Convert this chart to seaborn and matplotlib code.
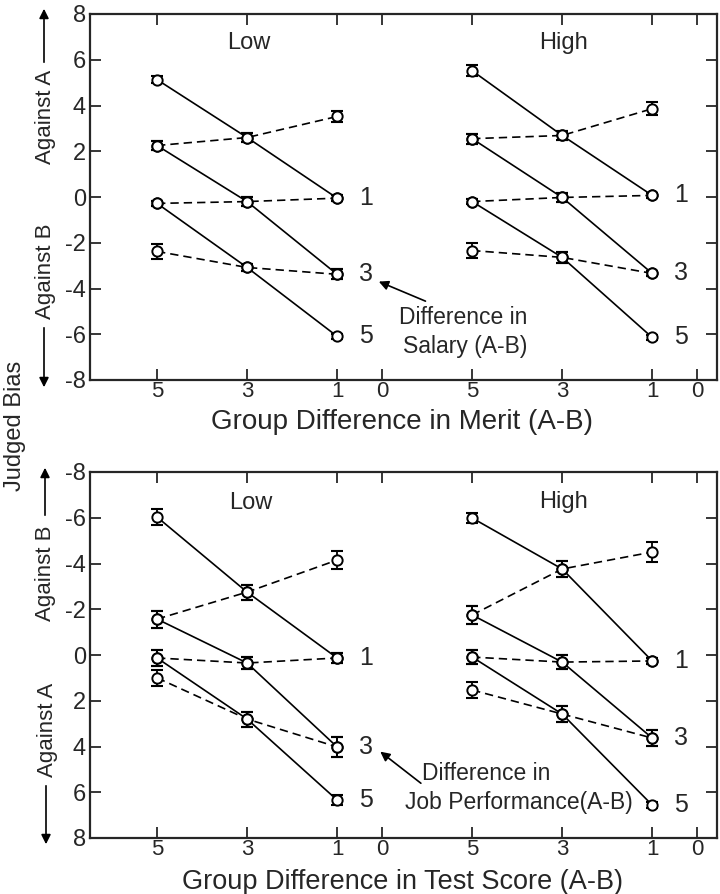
import matplotlib
matplotlib.use("Agg")
import matplotlib.pyplot as plt
import matplotlib.patches as mpatches
import seaborn as sns

# ---------------- data ----------------
merit_levels = [5, 3, 1]
tick_values = [5, 3, 1, 0]
group_names = ["Low", "High"]
series_labels = ["1", "3", "5"]

# top panel (salary)
top_low_solid = [[5.13, 2.60, -0.05], [2.25, -0.20, -3.38], [-0.28, -3.08, -6.09]]
top_low_solid_err = [[0.15, 0.18, 0.12], [0.20, 0.18, 0.22], [0.12, 0.15, 0.12]]
top_low_dashed = [[2.25, 2.60, 3.52], [-0.28, -0.20, -0.05], [-2.38, -3.08, -3.38]]
top_low_dashed_err = [[0.20, 0.18, 0.25], [0.12, 0.18, 0.12], [0.32, 0.15, 0.22]]

top_high_solid = [[5.52, 2.69, 0.07], [2.55, -0.02, -3.34], [-0.20, -2.64, -6.14]]
top_high_solid_err = [[0.25, 0.20, 0.12], [0.22, 0.20, 0.12], [0.12, 0.25, 0.12]]
top_high_dashed = [[2.55, 2.69, 3.86], [-0.20, -0.02, 0.07], [-2.34, -2.64, -3.34]]
top_high_dashed_err = [[0.22, 0.20, 0.28], [0.12, 0.20, 0.12], [0.32, 0.25, 0.12]]

# bottom panel (job performance)
bot_low_solid = [[-6.03, -2.75, 0.13], [-1.57, 0.35, 4.02], [0.13, 2.80, 6.34]]
bot_low_solid_err = [[0.34, 0.33, 0.20], [0.37, 0.25, 0.44], [0.36, 0.33, 0.20]]
bot_low_dashed = [[-1.57, -2.75, -4.15], [0.13, 0.35, 0.13], [1.00, 2.80, 4.02]]
bot_low_dashed_err = [[0.37, 0.33, 0.39], [0.36, 0.25, 0.20], [0.36, 0.33, 0.44]]

bot_high_solid = [[-5.99, -3.76, 0.26], [-1.75, 0.31, 3.63], [0.09, 2.58, 6.56]]
bot_high_solid_err = [[0.20, 0.35, 0.15], [0.40, 0.30, 0.36], [0.30, 0.34, 0.15]]
bot_high_dashed = [[-1.75, -3.76, -4.50], [0.09, 0.31, 0.26], [1.53, 2.58, 3.63]]
bot_high_dashed_err = [[0.40, 0.35, 0.44], [0.30, 0.30, 0.15], [0.36, 0.34, 0.36]]

top_yticks = [8, 6, 4, 2, 0, -2, -4, -6, -8]
top_yticklabels = ["8", "6", "4", "2", "0", "-2", "-4", "-6", "-8"]
bot_yticks = [-8, -6, -4, -2, 0, 2, 4, 6, 8]
bot_yticklabels = ["-8", "-6", "-4", "-2", "0", "2", "4", "6", "8"]

top_xlabel = "Group Difference in Merit (A-B)"
bot_xlabel = "Group Difference in Test Score (A-B)"
top_note = ["Difference in", "Salary (A-B)"]
bot_note = ["Difference in", "Job Performance(A-B)"]

# ---------------- style ----------------
sns.set_theme(style="ticks")
plt.rcParams["font.family"] = ["Liberation Sans", "DejaVu Sans"]
plt.rcParams["axes.linewidth"] = 1.5

W, H = 720, 894
fig = plt.figure(figsize=(W / 100, H / 100), dpi=100)

def fx(px):
    return px / W

def fy(py):
    return 1 - py / H

group_offset = {"Low": 0, "High": 7}

def pos(v, g):
    return group_offset[g] + (5 - v)

ax_top = fig.add_axes([fx(90), fy(380), fx(717) - fx(90), fy(14) - fy(380)])
ax_bot = fig.add_axes([fx(90), fy(838), fx(717) - fx(90), fy(472) - fy(838)])

def draw_series(ax, xs, ys, es, ls):
    sns.lineplot(x=xs, y=ys, ax=ax, color="black", lw=1.2, estimator=None,
                 sort=False, linestyle=ls, zorder=2)
    ax.errorbar(xs, ys, yerr=es, fmt="none", ecolor="black", elinewidth=1.3,
                capsize=4, capthick=1.5, zorder=3)
    sns.scatterplot(x=xs, y=ys, ax=ax, marker="o", s=55, facecolor="white",
                    edgecolor="black", linewidth=1.4, zorder=4)

def draw_group(ax, g, solid, solid_err, dashed, dashed_err):
    xs = [pos(m, g) for m in merit_levels]
    for ys, es in zip(solid, solid_err):
        draw_series(ax, xs, ys, es, "-")
    for ys, es in zip(dashed, dashed_err):
        draw_series(ax, xs, ys, es, (0, (5, 3)))
    for ys, lab in zip(solid, series_labels):
        ax.text(pos(merit_levels[-1], g) + 0.65, ys[-1], lab, fontsize=18,
                ha="center", va="center")

def style_axis(ax, yticks, ylabels, ylim):
    xt = [pos(v, g) for g in group_names for v in tick_values]
    xl = [str(v) for g in group_names for v in tick_values]
    ax.set_xlim(-1.49, 12.44)
    ax.set_ylim(*ylim)
    ax.set_xticks(xt)
    ax.set_xticklabels(xl)
    ax.set_yticks(yticks)
    ax.set_yticklabels(ylabels)
    ax.tick_params(axis="both", direction="in", length=8, width=1.3,
                   labelsize=17, top=True, right=True, pad=3)
    ax.tick_params(axis="x", pad=1, labelsize=16)
    for sp in ax.spines.values():
        sp.set_visible(True)
        sp.set_linewidth(1.6)
    ax.set_xlabel("")
    ax.set_ylabel("")

draw_group(ax_top, "Low", top_low_solid, top_low_solid_err, top_low_dashed, top_low_dashed_err)
draw_group(ax_top, "High", top_high_solid, top_high_solid_err, top_high_dashed, top_high_dashed_err)
style_axis(ax_top, top_yticks, top_yticklabels, (-8, 8))

draw_group(ax_bot, "Low", bot_low_solid, bot_low_solid_err, bot_low_dashed, bot_low_dashed_err)
draw_group(ax_bot, "High", bot_high_solid, bot_high_solid_err, bot_high_dashed, bot_high_dashed_err)
style_axis(ax_bot, bot_yticks, bot_yticklabels, (8, -8))

# group titles
ax_top.text(2.04, 6.75, group_names[0], fontsize=17, ha="center", va="center")
ax_top.text(9.02, 6.75, group_names[1], fontsize=17, ha="center", va="center")
ax_bot.text(2.09, -6.65, group_names[0], fontsize=17, ha="center", va="center")
ax_bot.text(9.02, -6.7, group_names[1], fontsize=17, ha="center", va="center")

# annotations
arrow_kw = dict(arrowstyle="-|>", color="black", lw=1.2, mutation_scale=14)
ax_top.annotate("", xy=(4.87, -3.65), xytext=(6.02, -4.6), arrowprops=arrow_kw)
ax_top.text(5.38, -5.26, top_note[0], fontsize=16.5, ha="left", va="center")
ax_top.text(5.47, -6.53, top_note[1], fontsize=16.5, ha="left", va="center")

ax_bot.annotate("", xy=(4.91, 4.15), xytext=(5.91, 5.68), arrowprops=arrow_kw)
ax_bot.text(5.89, 5.16, bot_note[0], fontsize=16.5, ha="left", va="center")
ax_bot.text(5.51, 6.43, bot_note[1], fontsize=16.5, ha="left", va="center")

# x labels
fig.text(fx(402), fy(429), top_xlabel, fontsize=20, ha="center", va="baseline")
fig.text(fx(402), fy(889), bot_xlabel, fontsize=19.5, ha="center", va="baseline")

# y side labels
fig.text(fx(15), fy(426), "Judged Bias", fontsize=17, rotation=90, ha="center", va="center")

def side(text, xpx, ycen, y_from, y_to):
    fig.text(fx(xpx), fy(ycen), text, fontsize=16, rotation=90, ha="center", va="center")
    a = mpatches.FancyArrowPatch((fx(xpx - 1), fy(y_from)), (fx(xpx - 1), fy(y_to)),
                                 transform=fig.transFigure, arrowstyle="-|>",
                                 mutation_scale=14, color="black", lw=1.2)
    fig.patches.append(a)

side("Against A", 45, 117, 65, 6)
side("Against B", 45, 271, 325, 390)
side("Against B", 46, 573, 518, 465)
side("Against A", 47, 730, 783, 847)

fig.savefig("out.png", dpi=100)
